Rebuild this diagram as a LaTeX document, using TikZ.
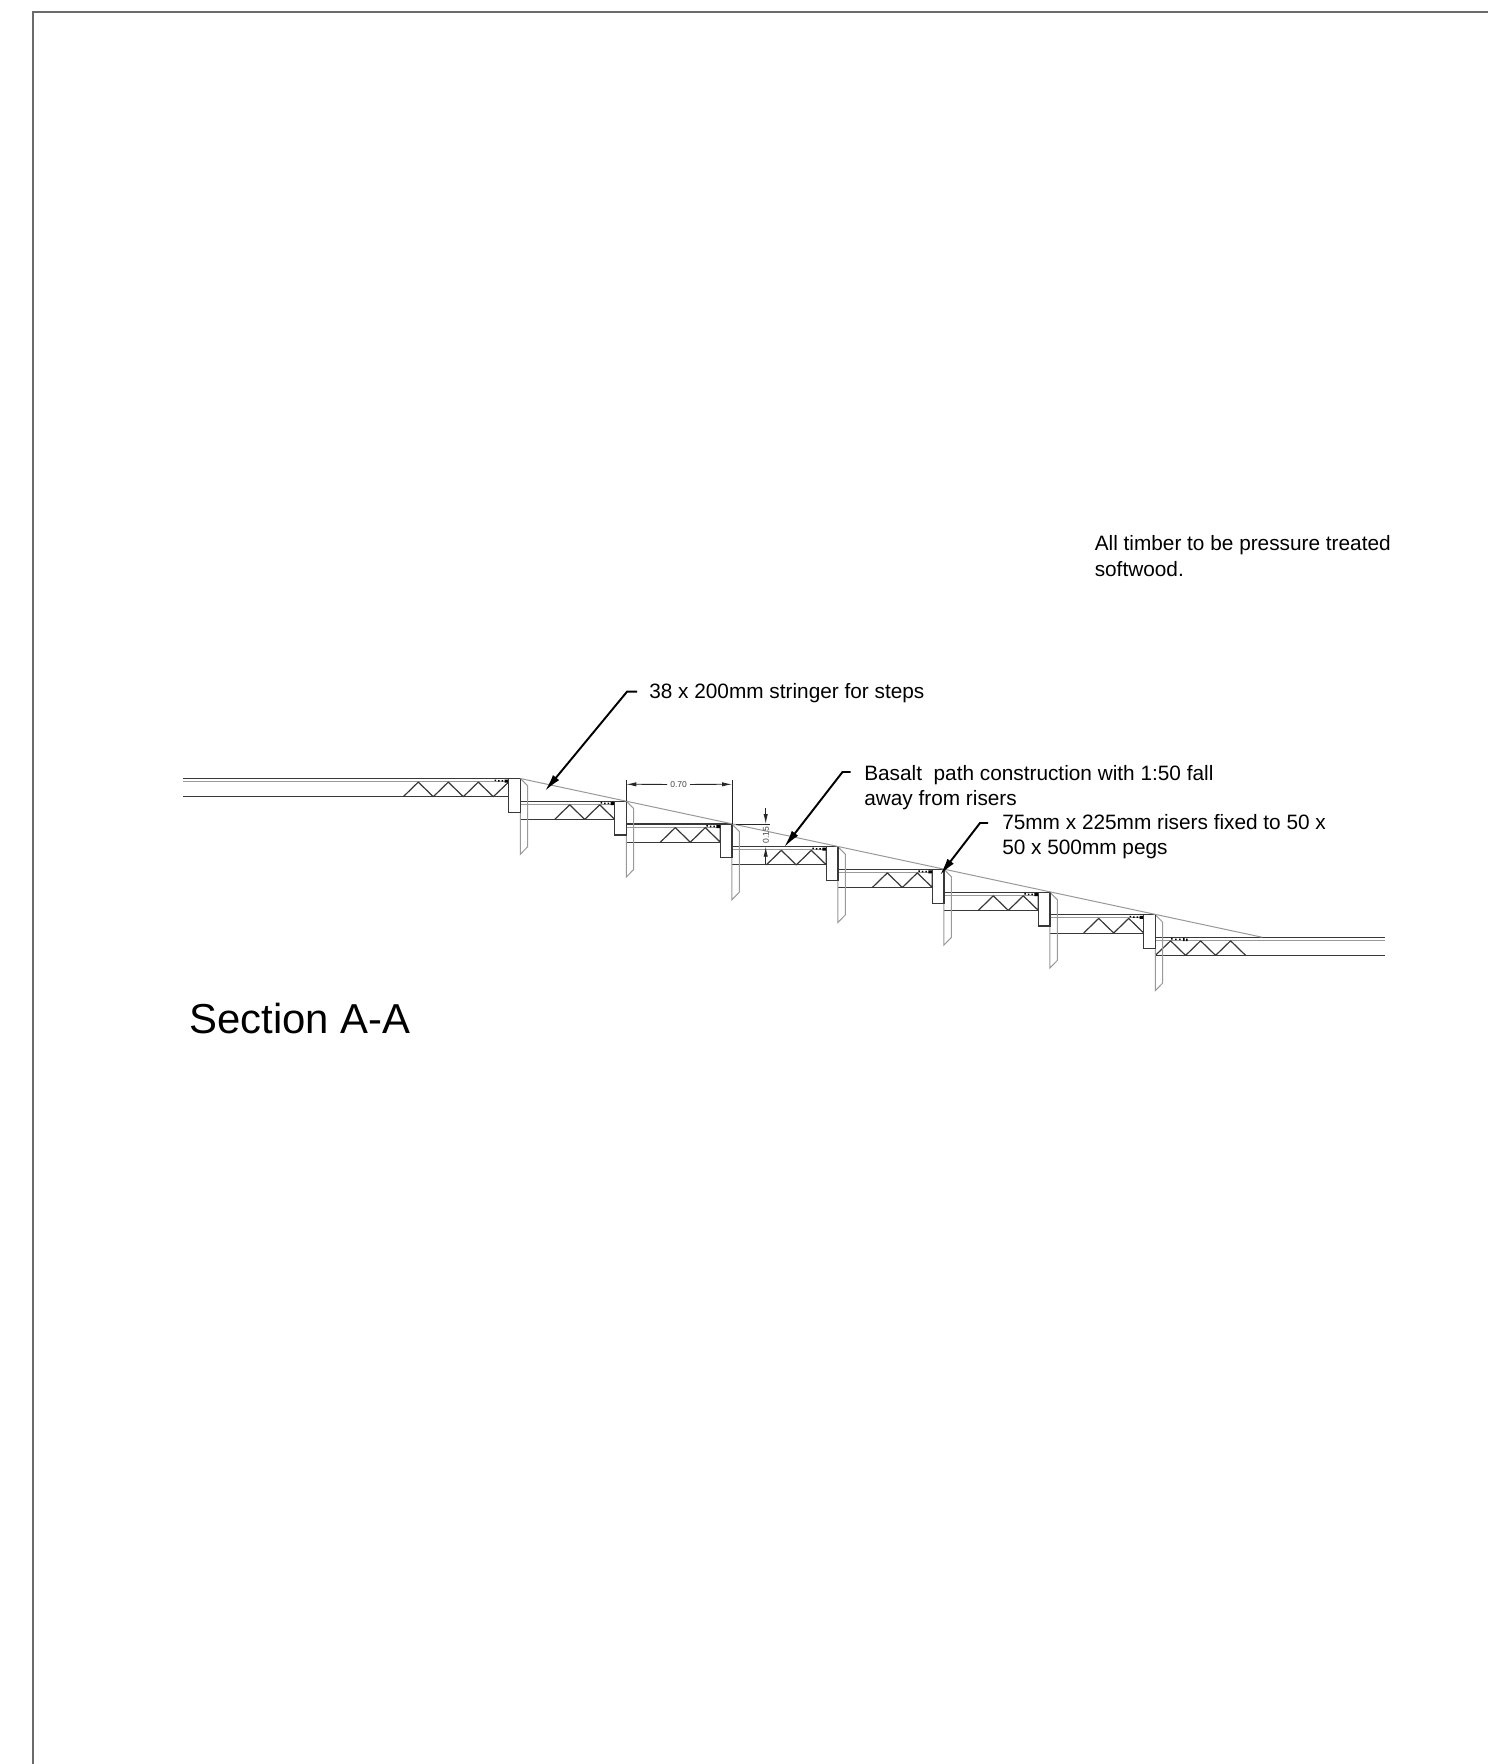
\documentclass[tikz,border=0pt]{standalone}
\usepackage{fontspec}
\setmainfont{Liberation Sans}
\usetikzlibrary{arrows.meta}
\definecolor{ln}{gray}{0.22}
\definecolor{gl}{gray}{0.6}
\definecolor{fr}{gray}{0.42}
\tikzset{
 x=0.75pt,y=-0.75pt,
 txt/.style={anchor=base west,inner sep=0pt,font=\fontsize{15.6pt}{15.6pt}\selectfont,text=black},
 dimtxt/.style={inner sep=0pt,font=\fontsize{6.4pt}{6.4pt}\selectfont,text=black!72},
 ldr/.style={black,line width=1.45pt},
 ldrtip/.style={-{Latex[length=13pt,width=6pt]}},
 thk/.style={ln,line width=0.9pt},
 thn/.style={gl,line width=0.75pt},
 dm/.style={black!85,line width=0.6pt},
 dmtip/.style={-{Latex[length=7.5pt,width=3.2pt]}}
}
\newcommand{\gravel}[2]{%
 \fill[black] (#1-14,#2+1) rectangle ++(1.5,1.5) (#1-10.5,#2+1.5) rectangle ++(1.5,1.5) (#1-7,#2+1.5) rectangle ++(1.5,1.5) (#1-4,#2+1) rectangle (#1,#2+4);}
\newcommand{\riser}[2]{%
 \draw[thn] (#1+11.6,#2) -- ++(7.4,7.4) -- ++(0,60.8) -- ++(-7.4,7.6) -- ++(0,-75.8);
 \draw[thk,fill=white] (#1,#2) rectangle ++(11.6,33.8);
 }
\newcommand{\tread}[3]{% x-left x-right ytop
 \draw[ln,line width=1pt] (#1,#3) -- (#2,#3);
 \draw[thn] (#1,#3+3) -- (#2,#3+3);
 \draw[ln,line width=0.75pt] (#1,#3+18.2) -- (#2,#3+18.2);}
\newcommand{\zig}[2]{% xright of tread (riser left), ytop
 \draw[thk,line join=bevel] (#1-60,#2+18.2) -- ++(15,-14.6) -- ++(15,14.6) -- ++(15,-14.6) -- ++(15,14.6) -- (#1,#2+3.6);
 \gravel{#1}{#2}}
\begin{document}
\begin{tikzpicture}
\useasboundingbox (0,0) rectangle (1488,1764);
\fill[white] (0,0) rectangle (1488,1764);
\draw[fr,line width=0.9pt] (33,1764) -- (33,12) -- (1488,12);

% first level
\tread{183}{508.7}{778.5}
\draw[thk,line join=bevel] (403.3,796.7) -- ++(15,-14.6) -- ++(15,14.6) -- ++(15,-14.6) -- ++(15,14.6) -- ++(15,-14.6) -- ++(15,14.6) -- (508.7,782);
\gravel{508.7}{778.5}
% middle treads
\tread{520.3}{614.7}{801.2}\zig{614.7}{801.2}
\tread{626.3}{720.3}{824}\zig{720.3}{824}
\tread{732}{826.3}{846.7}\zig{826.3}{846.7}
\tread{837.9}{932.3}{869.3}\zig{932.3}{869.3}
\tread{943.9}{1038.3}{892.2}\zig{1038.3}{892.2}
\tread{1049.9}{1143.7}{914.8}\zig{1143.7}{914.8}
% last level
\tread{1155.3}{1385}{937.2}
\draw[thk,line join=bevel] (1155.3,955.4) -- ++(15.3,-14.6) -- ++(15,14.6) -- ++(15,-14.6) -- ++(15,14.6) -- ++(15,-14.6) -- ++(15,14.6);
\fill[black] (1171,938) rectangle ++(1.5,1.5) (1175,938.5) rectangle ++(1.5,1.5) (1179,938.5) rectangle ++(1.5,1.5) (1183,938) rectangle ++(1.5,3) (1186,938.5) rectangle ++(1.5,2.5);
% risers and pegs
\riser{508.7}{778.5}
\riser{614.7}{801.2}
\riser{720.3}{824}
\riser{826.3}{846.7}
\riser{932.3}{869.3}
\riser{1038.3}{892.2}
\riser{1143.7}{914.8}

% slope
\coordinate (slA) at (520.3,778.5);
\coordinate (slB) at (1262,937.2);
\draw[gl,line width=0.75pt] (slA) -- (slB);

% dimension 0.70
\coordinate (dA) at (626.3,784.3);
\coordinate (dB) at (732,784.3);
\draw[dm] (626.3,780) -- (626.3,801.2);
\draw[dm] (732,780) -- (732,824);
\node[dimtxt] (dT) at (678.6,785) {0.70};
\draw[dm,dmtip] (dT.west) ++(-3,-0.6) -- (dA);
\draw[dm,dmtip] (dT.east) ++(3,-0.6) -- (dB);
% dimension 0.15
\draw[dm] (736,824) -- (770,824);
\coordinate (eA) at (765.7,824);
\coordinate (eB) at (765.7,846.7);
\node[dimtxt,rotate=90] (eT) at (766,835) {0.15};
\draw[dm,dmtip] (765.7,808) -- (eA);
\draw[dm,dmtip] (765.7,864) -- (eB);

% labels and leaders
\node[txt] (t1) at (649,698) {38 x 200mm stringer for steps};
\node[txt] (t2) at (864,780) {Basalt\ \ path construction with 1:50 fall};
\node[txt] (t2b) at (864,805) {away from risers};
\node[txt] (t3) at (1002,829) {75mm x 225mm risers fixed to 50 x};
\node[txt] (t3b) at (1002,854) {50 x 500mm pegs};
\node[txt] (t4) at (1094.5,550) {All timber to be pressure treated};
\node[txt] (t4b) at (1094.5,576) {softwood.};
\node[anchor=base west,inner sep=0pt,font=\fontsize{31.4pt}{31.4pt}\selectfont,text=black] (t5) at (189,1033) {Section A-A};

\coordinate (a1) at (545,791);
\coordinate (a2) at (784.3,847);
\coordinate (a3) at (940,875);
\draw[ldr,ldrtip] (637,691.7) -- (627,691.7) -- (a1);
\draw[ldr,ldrtip] (850.7,772) -- (842.5,772) -- (a2);
\draw[ldr,ldrtip] (988,823) -- (980,823) -- (a3);
\end{tikzpicture}
\end{document}
